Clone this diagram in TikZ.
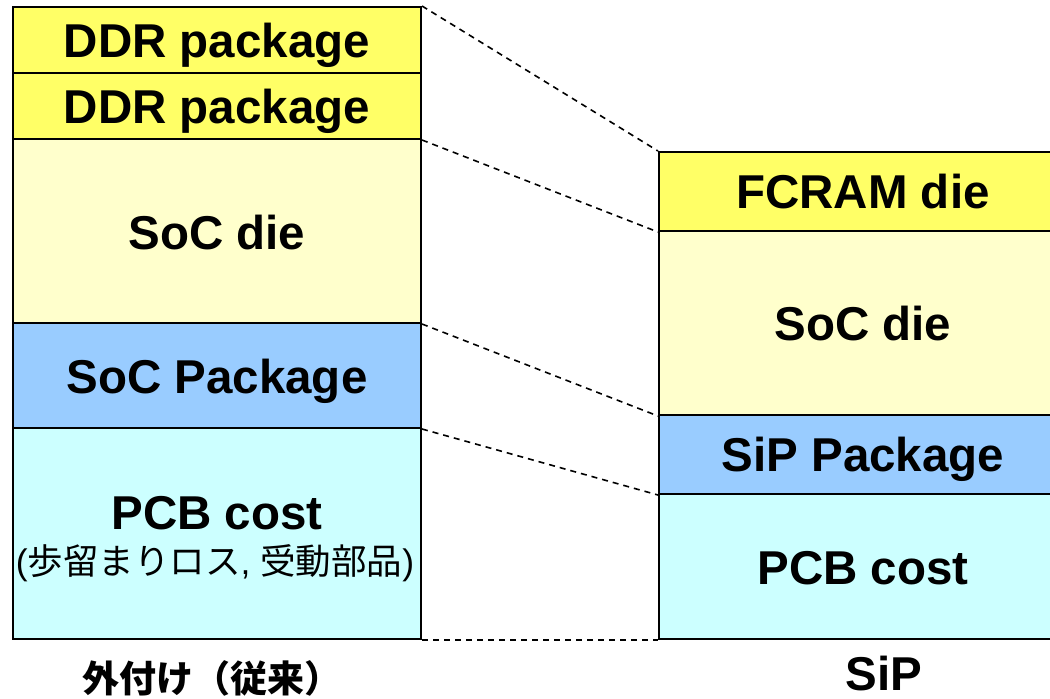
\documentclass[tikz,border=0pt]{standalone}
\usepackage{fontspec}
\setmainfont{Liberation Sans}
\newfontfamily\jp{Noto Sans CJK JP}
\definecolor{cyel}{HTML}{FFFF66}
\definecolor{clyel}{HTML}{FFFFCC}
\definecolor{cblue}{HTML}{99CCFF}
\definecolor{ccyan}{HTML}{CCFFFF}
\tikzset{
  layer/.style={draw=black, line width=2pt, rectangle, inner sep=0pt, anchor=north west, minimum width=408pt},
  lbl/.style={inner sep=0pt, anchor=base, font=\fontsize{47.5}{57}\selectfont\bfseries},
  link/.style={draw=black, line width=1.6pt, dash pattern=on 6pt off 5pt},
}
\begin{document}
\begin{tikzpicture}[x=1pt,y=-1pt]
\useasboundingbox (0,0) rectangle (1050,699);
\clip (0,0) rectangle (1050,699);
% left column
\node[layer, fill=cyel,  minimum height=66pt]  (ddr1)   at (12,6) {};
\node[layer, fill=cyel,  minimum height=66pt]  (ddr2)   at (12,72) {};
\node[layer, fill=clyel, minimum height=184pt] (soc)    at (12,138) {};
\node[layer, fill=cblue, minimum height=105pt] (socpkg) at (12,322) {};
\node[layer, fill=ccyan, minimum height=211pt] (pcb)    at (12,427) {};
% right column
\node[layer, fill=cyel,  minimum height=79pt]  (fcram)  at (658,151) {};
\node[layer, fill=clyel, minimum height=184pt] (soc2)   at (658,230) {};
\node[layer, fill=cblue, minimum height=79pt]  (sip)    at (658,414) {};
\node[layer, fill=ccyan, minimum height=145pt] (pcb2)   at (658,493) {};
% labels left
\node[lbl, yshift=-17pt] (tddr1) at (ddr1.center) {DDR package};
\node[lbl, yshift=-17pt] (tddr2) at (ddr2.center) {DDR package};
\node[lbl, yshift=-18pt] (tsoc) at (soc.center) {SoC die};
\node[lbl, yshift=-18pt] (tsocpkg) at (socpkg.center) {SoC Package};
\node[lbl, yshift=4.5pt] (tpcb) at (pcb.center) {PCB cost};
\node[inner sep=0pt, font=\fontsize{35.5}{42}\selectfont] (tpcbsub) at (215,563)
  {(\jp 歩留まりロス\rmfamily, \jp 受動部品\rmfamily)};
% labels right
\node[lbl, yshift=-17pt] (tfcram) at (fcram.center) {FCRAM die};
\node[lbl, yshift=-17pt] (tsoc2) at (soc2.center) {SoC die};
\node[lbl, yshift=-17pt] (tsip) at (sip.center) {SiP Package};
\node[lbl, yshift=-18pt] (tpcb2) at (pcb2.center) {PCB cost};
% bottom captions
\node[inner sep=0pt, font=\fontsize{37}{42}\selectfont\jp\bfseries] (capl) at (212,678) {外付け（従来）};
\node[lbl] (capr) at (884,690) {SiP};
% dashed links
\draw[link] (ddr1.north east) -- (fcram.north west);
\draw[link] (ddr2.south east) -- (fcram.south west);
\draw[link] (soc.south east) -- (soc2.south west);
\draw[link] (socpkg.south east) -- (sip.south west);
\draw[link] (pcb.south east) -- (pcb2.south west);
\end{tikzpicture}
\end{document}
